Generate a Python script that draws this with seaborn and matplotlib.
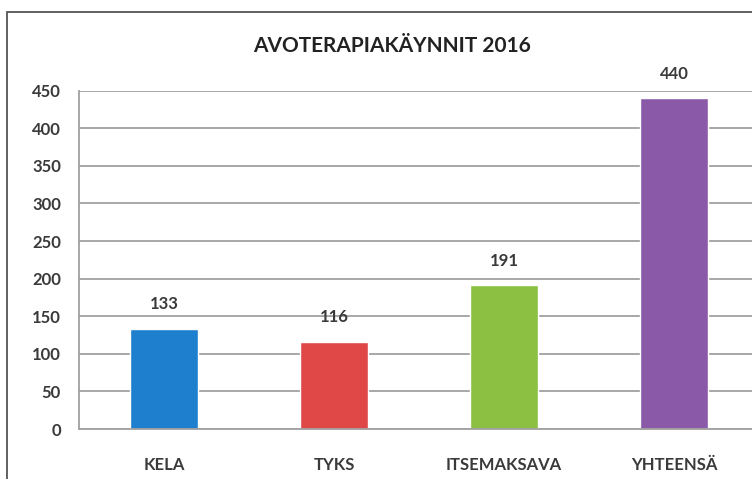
import matplotlib
matplotlib.use("Agg")
import matplotlib.pyplot as plt
import seaborn as sns
import pandas as pd
from matplotlib.patches import Rectangle

categories = ["KELA", "TYKS", "ITSEMAKSAVA", "YHTEENSÄ"]
values = [133, 116, 191, 440]
colors = ["#1f7fcf", "#e04848", "#8cc043", "#8a5aa8"]
title = "AVOTERAPIAKÄYNNIT 2016"
yticks = [0, 50, 100, 150, 200, 250, 300, 350, 400, 450]

sns.set_theme(style="white")
plt.rcParams["font.family"] = ["Lato", "DejaVu Sans"]

W, H = 752, 479
fig = plt.figure(figsize=(W / 100, H / 100), dpi=100)
fig.patch.set_facecolor("white")

ax = fig.add_axes([79 / W, (H - 429) / H, 680 / W, (429 - 90.7) / H])
df = pd.DataFrame({"cat": categories, "val": values})
sns.barplot(data=df, x="cat", y="val", hue="cat", palette=colors,
            width=0.4, legend=False, ax=ax, saturation=1)

ax.set_xlim(-0.5, 3.5)
ax.set_ylim(0, 450)
ax.set_yticks(yticks)
ax.set_yticklabels([str(t) for t in yticks], fontweight="bold")
ax.set_xticks(range(len(categories)))
ax.set_xticklabels(categories, fontweight="bold")
ax.set_xlabel("")
ax.set_ylabel("")
ax.yaxis.grid(True, color="#a0a0a0", linewidth=1.3)
ax.set_axisbelow(True)
for s in ["top", "right"]:
    ax.spines[s].set_visible(False)
for s in ["left", "bottom"]:
    ax.spines[s].set_visible(True)
    ax.spines[s].set_color("#a0a0a0")
    ax.spines[s].set_linewidth(1.3)
ax.tick_params(axis="y", length=0, pad=13, labelsize=12, labelcolor="#3a3a3a")
ax.tick_params(axis="x", length=0, pad=20, labelsize=12, labelcolor="#3a3a3a")

for i, v in enumerate(values):
    ax.annotate(str(v), (i, v), xytext=(0, 12), textcoords="offset points",
                ha="center", va="bottom", fontsize=12, fontweight="bold",
                color="#3a3a3a")

fig.text(392 / W, 1 - 46 / H, title, ha="center", va="center",
         fontsize=15, fontweight="bold", color="#222222")

fig.patches.append(Rectangle((7 / W, -0.1), 1.2, 1 - 12 / H + 0.1,
                             transform=fig.transFigure, fill=False,
                             edgecolor="#555555", linewidth=1.3))

fig.savefig("out.png", dpi=100)
